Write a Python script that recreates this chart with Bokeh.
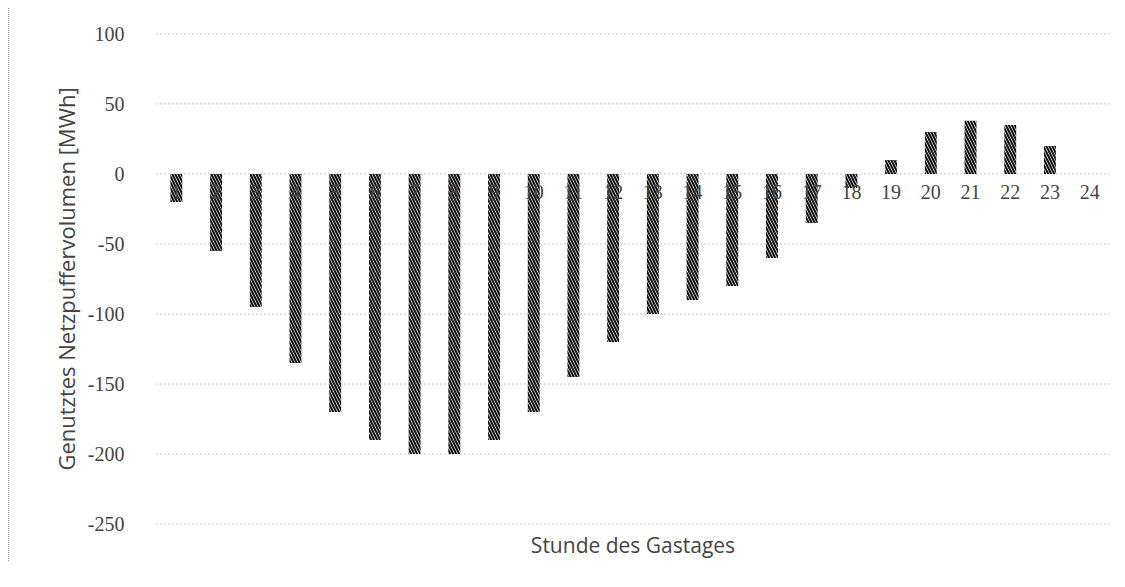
from bokeh.plotting import figure
from bokeh.models import ColumnDataSource, Range1d, FixedTicker, Title, PrintfTickFormatter, Span
from bokeh.embed import file_html
from bokeh.resources import INLINE

hours = [str(h) for h in range(1, 25)]
volumes = [-20, -55, -95, -135, -170, -190, -200, -200, -190, -170, -145, -120,
           -100, -90, -80, -60, -35, -10, 10, 30, 38, 35, 20, 0]
y_ticks = [-250, -200, -150, -100, -50, 0, 50, 100]

src = ColumnDataSource(dict(hour=hours, vol=volumes))

p = figure(x_range=hours, y_range=Range1d(-251, 101),
           frame_width=953, frame_height=493,
           min_border_left=147, min_border_right=9, min_border_top=24, min_border_bottom=20,
           output_backend="svg", toolbar_location=None)
p.outline_line_color = None
p.styles = {"border-left": "1px dotted #999999", "margin-left": "8px", "margin-top": "8px"}

for t in y_ticks:
    p.add_layout(Span(location=t, dimension="width", line_color="#8c8c8c",
                      line_dash="1 3", line_width=1, level="underlay"))

p.vbar(x="hour", top="vol", bottom=0, width=0.3, source=src,
       fill_color="white", line_color=None,
       hatch_pattern="\\", hatch_color="#111111", hatch_scale=6, hatch_weight=2.1)

text_col = "#444444"
p.yaxis.ticker = FixedTicker(ticks=y_ticks)
p.yaxis.formatter = PrintfTickFormatter(format="%d")
p.yaxis.axis_line_color = None
p.yaxis.major_tick_line_color = None
p.yaxis.minor_tick_line_color = None
p.yaxis.major_label_standoff = 26
p.yaxis.major_label_text_font = "Liberation Serif"
p.yaxis.major_label_text_font_size = "20px"
p.yaxis.major_label_text_color = text_col
p.yaxis.axis_label = "Genutztes Netzpuffervolumen [MWh]"
p.yaxis.axis_label_text_font = "Open Sans"
p.yaxis.axis_label_text_font_style = "normal"
p.yaxis.axis_label_text_font_size = "22px"
p.yaxis.axis_label_text_color = text_col
p.yaxis.axis_label_standoff = 4

p.xaxis.fixed_location = 0
p.xaxis.axis_line_color = None
p.xaxis.major_tick_line_color = None
p.xaxis.minor_tick_line_color = None
p.xaxis.major_label_standoff = 5
p.xaxis.major_label_text_font = "Liberation Serif"
p.xaxis.major_label_text_font_size = "20px"
p.xaxis.major_label_text_color = text_col

p.xgrid.grid_line_color = None
p.ygrid.grid_line_color = None

p.add_layout(Title(text="Stunde des Gastages", align="center",
                   text_font="Open Sans", text_font_size="21px",
                   text_font_style="normal", text_color=text_col,
                   standoff=6), "below")

open("out.html", "w").write(file_html(p, INLINE))
